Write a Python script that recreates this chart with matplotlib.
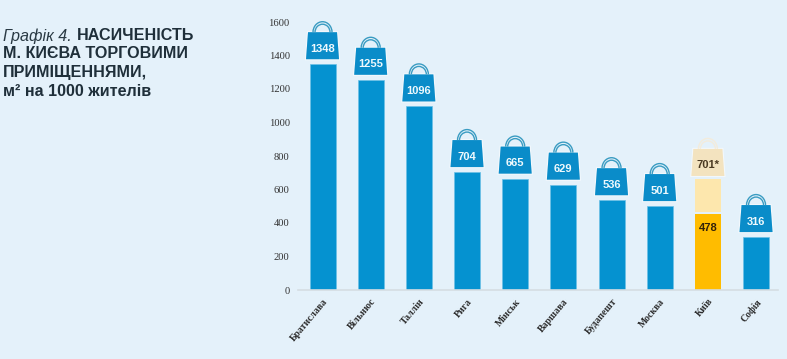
import matplotlib
matplotlib.use('Agg')
import matplotlib.pyplot as plt
from matplotlib.patches import Polygon, PathPatch
from matplotlib.path import Path
from matplotlib.transforms import Affine2D, ScaledTranslation

cities = ['Братислава', 'Вільнюс', 'Таллін', 'Рига', 'Мінськ', 'Варшава',
          'Будапешт', 'Москва', 'Київ', 'Софія']
values = [1348, 1255, 1096, 704, 665, 629, 536, 501, 478, 316]
kyiv_label = '701*'
# Kyiv is drawn a bit lower than its numbers in the picture
kyiv_solid_top = 455
kyiv_pale_bottom = 468
kyiv_pale_top = 663
y_ticks = [0, 200, 400, 600, 800, 1000, 1200, 1400, 1600]

BG = '#e4f1fa'
BLUE = '#0592d0'
BAG = '#0a8cc9'
HANDLE = '#3a9cc2'
GOLD = '#ffbc00'
PALE = '#fde7ad'
PALE_BAG = '#f3e3bf'
PALE_HANDLE = '#f3ecdc'

W, H = 787, 359
fig = plt.figure(figsize=(W / 100, H / 100), dpi=100, facecolor=BG)
ax = fig.add_axes([298 / W, 69 / H, 480 / W, 268 / H], facecolor='none')
ax.set_xlim(-0.509, 9.456)
ax.set_ylim(0, 1600)


def bag(x, y, face, handle, text, text_color, gap=5):
    # y is where the bag sits: sizes below are in pixels from that point
    tr = Affine2D().scale(1 / 100) + fig.dpi_scale_trans + ScaledTranslation(x, y, ax.transData)
    top = gap + 27
    body = [(-16.5, gap), (16.5, gap), (14.5, top), (-14.5, top)]
    ax.add_patch(Polygon(body, closed=True, fc=face, ec='white', lw=1.6, alpha=0.55,
                         transform=tr, clip_on=False, zorder=3))
    ax.add_patch(Polygon(body, closed=True, fc=face, ec='none',
                         transform=tr, clip_on=False, zorder=4))
    for rx, ry in [(9.5, 10.5), (7.5, 8)]:
        arc = Affine2D().scale(rx, ry).translate(0, top) + tr
        ax.add_patch(PathPatch(Path.arc(0, 180), fc='none', ec=handle, lw=1.0,
                               transform=arc, clip_on=False, zorder=4))
    ax.text(0, 0, text, transform=Affine2D().translate(0, gap + 10.5) + tr, ha='center',
            va='center', fontsize=8, fontweight='bold', family='Liberation Sans',
            color=text_color, clip_on=False, zorder=5)


for i, (city, val) in enumerate(zip(cities, values)):
    if city == 'Київ':
        ax.bar(i, kyiv_solid_top, width=0.54, color=GOLD, zorder=2)
        ax.bar(i, kyiv_pale_top - kyiv_pale_bottom, bottom=kyiv_pale_bottom, width=0.54,
               color=PALE, zorder=2)
        ax.text(i, kyiv_solid_top - 85, str(val), ha='center', va='center', fontsize=8,
                fontweight='bold', family='Liberation Sans', color='#33220a', zorder=5)
        bag(i, kyiv_pale_top, PALE_BAG, PALE_HANDLE, kyiv_label, '#4a3a22', gap=3)
    else:
        ax.bar(i, val, width=0.54, color=BLUE, edgecolor='#6cc0e6', linewidth=0.5, zorder=2)
        bag(i, val, BAG, HANDLE, str(val), '#eef9fd')

for side in ['top', 'right', 'left']:
    ax.spines[side].set_visible(False)
ax.spines['bottom'].set_color('#d5dde3')
ax.spines['bottom'].set_linewidth(1.2)

ax.set_yticks(y_ticks)
ax.set_xticks(range(len(cities)))
ax.set_xticklabels(cities, rotation=50, ha='right', rotation_mode='anchor',
                   fontsize=7, fontweight='bold', family='Liberation Serif', color='#2b2b2b')
ax.tick_params(axis='x', length=0, pad=5)
ax.tick_params(axis='y', length=0, pad=6, labelsize=7.6, labelcolor='#333333')
for lab in ax.get_yticklabels():
    lab.set_family('Liberation Serif')

# title block, set line by line like the original
tx = 3 / W
fs = 11.6
fig.text(tx, 1 - 36 / H, 'Графік 4.', fontsize=fs, style='italic', family='Liberation Sans',
         color='#2a3a44', va='center')
fig.text(77 / W, 1 - 36 / H, 'НАСИЧЕНІСТЬ', fontsize=fs, fontweight='bold',
         family='Liberation Sans', color='#1f2f3a', va='center')
fig.text(tx, 1 - 54 / H, 'М. КИЄВА ТОРГОВИМИ', fontsize=fs, fontweight='bold',
         family='Liberation Sans', color='#1f2f3a', va='center')
fig.text(tx, 1 - 73 / H, 'ПРИМІЩЕННЯМИ,', fontsize=fs, fontweight='bold',
         family='Liberation Sans', color='#1f2f3a', va='center')
fig.text(tx, 1 - 92 / H, 'м² на 1000 жителів', fontsize=fs, fontweight='bold',
         family='Liberation Sans', color='#1f2f3a', va='center')

fig.savefig('out.png', dpi=100, facecolor=BG)
